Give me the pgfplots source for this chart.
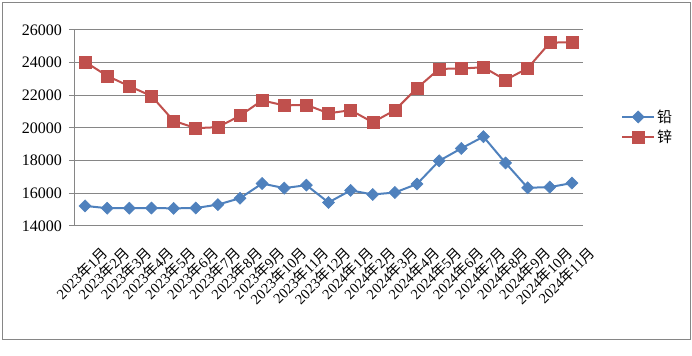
\documentclass[border=0pt]{standalone}
\usepackage{fontspec}
\usepackage{pgfplots}
\pgfplotsset{compat=1.18}
\setmainfont{Liberation Serif}
\newfontfamily\cjk{Noto Sans CJK SC}
\newcommand{\ym}[2]{#1{\cjk 年}#2{\cjk 月}}
\definecolor{cblue}{HTML}{4F81BD}
\definecolor{cred}{HTML}{C0504D}
\definecolor{cgray}{HTML}{868686}
\begin{document}
\begin{tikzpicture}
\useasboundingbox (0,0) rectangle (692bp,356bp);
\draw[cgray, line width=1bp] (2.5bp,16bp) rectangle (690.5bp,353.5bp);
\begin{axis}[
  at={(74bp,130bp)}, anchor=south west,
  scale only axis, width=509bp, height=196bp,
  xmin=-0.5, xmax=22.5, ymin=14000, ymax=26000,
  ytick={14000,16000,...,26000},
  xtick={0,...,22},
  xticklabels={\ym{2023}{1},\ym{2023}{2},\ym{2023}{3},\ym{2023}{4},\ym{2023}{5},\ym{2023}{6},\ym{2023}{7},\ym{2023}{8},\ym{2023}{9},\ym{2023}{10},\ym{2023}{11},\ym{2023}{12},\ym{2024}{1},\ym{2024}{2},\ym{2024}{3},\ym{2024}{4},\ym{2024}{5},\ym{2024}{6},\ym{2024}{7},\ym{2024}{8},\ym{2024}{9},\ym{2024}{10},\ym{2024}{11}},
  x tick style={draw=none},
  extra x ticks={-0.5,0.5,...,22.5},
  extra x tick labels={},
  extra x tick style={tick style={draw=cgray, line width=1bp}, major tick length=5bp, tick align=outside, grid=none},
  axis x line*=bottom, axis y line*=left,
  axis line style={cgray, line width=1bp, -},
  y tick style={cgray, line width=1bp},
  tick align=outside, major tick length=5bp,
  ymajorgrids, grid style={cgray, line width=1bp},
  /pgf/number format/assume math mode=true,
  scaled y ticks=false,
  yticklabel={\pgfmathprintnumber[fixed,1000 sep={}]{\tick}},
  tick label style={font=\fontsize{16bp}{17bp}\selectfont},
  xticklabel style={font=\fontsize{14.5bp}{15bp}\selectfont, xshift=15bp, yshift=-14bp, rotate=45, anchor=north east, inner sep=0pt},
  yticklabel style={inner sep=0pt, xshift=-7bp},
  legend style={draw=none, at={(1,0.5)}, anchor=west, xshift=38bp, yshift=1bp,
    font=\cjk\fontsize{15bp}{16bp}\selectfont, row sep=2bp, inner sep=0pt,
    legend cell align=left},
  legend image code/.code={\draw[mark repeat=2,mark phase=2,#1] plot coordinates {(0bp,0bp)(16bp,0bp)(32bp,0bp)};},
]
\addplot[cblue, line width=2bp, mark=square*, mark size=4.3bp, mark options={rotate=45, fill=cblue, draw=cblue, line width=0.5bp}] coordinates {
(0,15230)(1,15090)(2,15090)(3,15100)(4,15080)(5,15100)(6,15310)(7,15700)(8,16600)(9,16320)(10,16500)(11,15440)(12,16180)(13,15930)(14,16050)(15,16570)(16,17990)(17,18750)(18,19470)(19,17860)(20,16340)(21,16380)(22,16630)};
\addlegendentry{铅}
\addplot[cred, line width=2bp, mark=square*, mark size=6bp, mark options={fill=cred, draw=cred, line width=0.5bp}] coordinates {
(0,24050)(1,23190)(2,22560)(3,21960)(4,20440)(5,19990)(6,20050)(7,20750)(8,21690)(9,21380)(10,21420)(11,20900)(12,21090)(13,20350)(14,21090)(15,22440)(16,23620)(17,23640)(18,23720)(19,22940)(20,23660)(21,25220)(22,25260)};
\addlegendentry{锌}
\end{axis}
\end{tikzpicture}
\end{document}
